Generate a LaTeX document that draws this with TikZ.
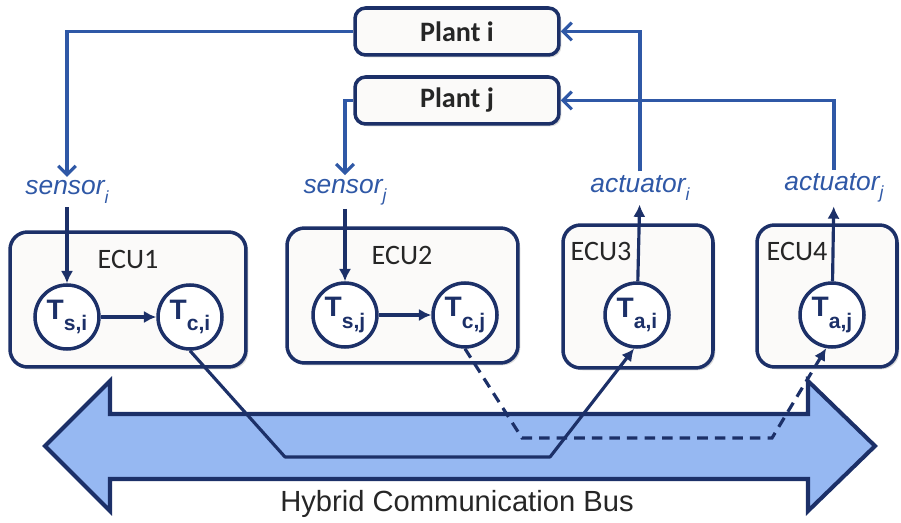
\documentclass[tikz,border=0pt]{standalone}
\usepackage{fontspec}
\setmainfont{Carlito}
\setsansfont{Liberation Sans}
\usetikzlibrary{arrows.meta,shadows}
\definecolor{navy}{HTML}{1C3068}
\definecolor{linkblue}{HTML}{2F58A6}
\definecolor{busfill}{HTML}{96B8F2}
\definecolor{boxfill}{HTML}{FBFAF9}
\newcommand{\tsk}[1]{T\raisebox{-0.75ex}{\fontsize{12}{13}\selectfont #1}}
\newcommand{\sub}[2]{#1\raisebox{-0.6ex}{\fontsize{10}{11}\selectfont #2}}
\begin{document}
\begin{tikzpicture}[x=0.02cm,y=-0.02cm,
  ecu/.style={draw=navy,line width=2pt,fill=boxfill,rounded corners=10pt,
    drop shadow={shadow xshift=1.3pt,shadow yshift=-1.3pt,opacity=.3}},
  plant/.style={ecu,rounded corners=6pt,minimum width=4.08cm,minimum height=0.94cm,
    font=\fontsize{16}{18}\selectfont\bfseries,text=black!85},
  task/.style={circle,draw=navy,line width=2pt,fill=white,minimum size=1.28cm,
    inner sep=0pt,text=navy,font=\sffamily\bfseries\fontsize{16}{18}\selectfont},
  io/.style={text=linkblue,font=\sffamily\itshape\fontsize{15}{17}\selectfont,inner sep=2pt},
  ecutitle/.style={font=\fontsize{16}{18}\selectfont,text=black!85},
  feed/.style={draw=linkblue,line width=1.8pt,-{Straight Barb[length=5pt,width=10pt]}},
  flow/.style={draw=navy,line width=1.8pt,-{Latex[length=7pt,width=7pt]}},
]
  \useasboundingbox (0,0) rectangle (901,523);

  % bus
  \draw[navy,line width=2.3pt,fill=busfill] (45,446) -- (110,381) -- (110,414) -- (808,414)
    -- (808,381) -- (875,446) -- (808,511) -- (808,479) -- (110,479) -- (110,511) -- cycle;
  \node[font=\sffamily\fontsize{16.6}{18}\selectfont,text=black!85] (buslabel) at (457,504) {Hybrid Communication Bus};

  % plants
  \node[plant] (planti) at (457,31.5) {Plant i};
  \node[plant] (plantj) at (457,100.5) {Plant j};

  % ECUs
  \node[ecu,minimum width=4.72cm,minimum height=2.7cm] (ecu1) at (128,299.5) {};
  \node[ecu,minimum width=4.62cm,minimum height=2.7cm] (ecu2) at (402.5,295.5) {};
  \node[ecu,minimum width=3.0cm,minimum height=2.86cm] (ecu3) at (638,296.5) {};
  \node[ecu,minimum width=2.8cm,minimum height=2.84cm] (ecu4) at (827,296) {};
  \node[ecutitle] (ecu1t) at (128,259) {ECU1};
  \node[ecutitle] (ecu2t) at (402,255) {ECU2};
  \node[ecutitle] (ecu3t) at (601,251) {ECU3};
  \node[ecutitle] (ecu4t) at (797,251) {ECU4};

  % tasks
  \node[task] (tsi) at (67,317) {\tsk{s,i}};
  \node[task] (tci) at (190,317) {\tsk{c,i}};
  \node[task] (tsj) at (345,315) {\tsk{s,j}};
  \node[task] (tcj) at (465,315) {\tsk{c,j}};
  \node[task] (tai) at (637,315) {\tsk{a,i}};
  \node[task] (taj) at (832,315) {\tsk{a,j}};

  % sensors and actuators
  \node[io] (si) at (67,192) {\sub{sensor}{i}};
  \node[io] (sj) at (345,192) {\sub{sensor}{j}};
  \node[io] (ai) at (640,188) {\sub{actuator}{i}};
  \node[io] (aj) at (834,188) {\sub{actuator}{j}};

  \draw[feed] (planti.west) -| (si.north);
  \draw[feed] (plantj.west) -| (sj.north);
  \draw[feed] (ai.north) |- (planti.east);
  \draw[feed] (aj.north) |- (plantj.east);

  \draw[flow] (si) -- (tsi);
  \draw[flow] (tsi) -- (tci);
  \draw[flow] (sj) -- (tsj);
  \draw[flow] (tsj) -- (tcj);
  \draw[flow] (tai) -- (ai);
  \draw[flow] (taj) -- (aj);

  % messages over the bus
  \coordinate (b1) at (285,457);
  \coordinate (b2) at (550,457);
  \draw[flow,line join=round] (tci.south) -- (b1) -- (b2) -- (tai.-95);
  \coordinate (b3) at (522,438);
  \coordinate (b4) at (772,438);
  \draw[flow,dash pattern=on 6pt off 4pt] (tcj.south) -- (b3) -- (b4) -- (taj.-100);
\end{tikzpicture}
\end{document}
